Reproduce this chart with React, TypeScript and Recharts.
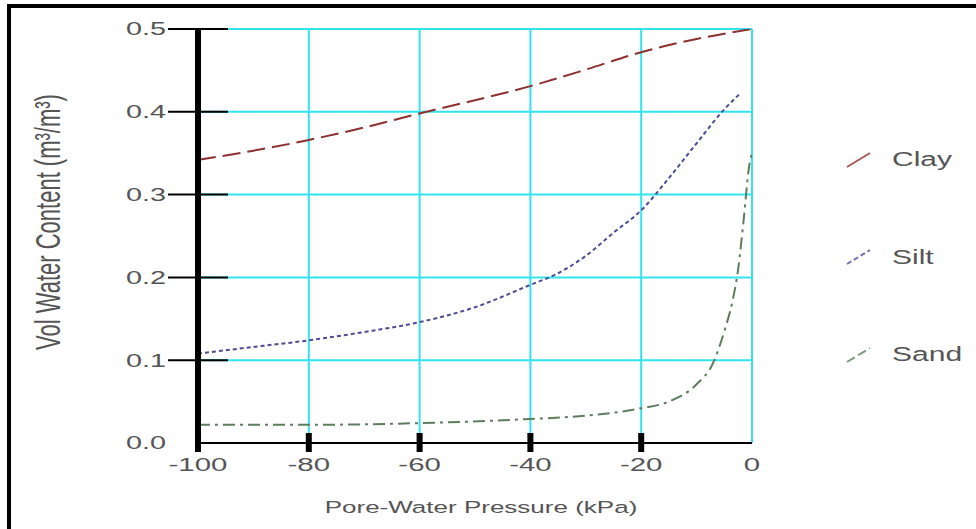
import { LineChart, Line, XAxis, YAxis, CartesianGrid, Legend } from "recharts";

// axis ticks
const xTicks = [-100, -80, -60, -40, -20, 0];
const yTicks = [0, 0.1, 0.2, 0.3, 0.4, 0.5];

// pore-water pressure (kPa) / vol water content
const clayPressure = [-100, -90, -80, -70, -60, -50, -40, -30, -20, -10, 0];
const clayContent = [0.342, 0.353, 0.366, 0.381, 0.398, 0.414, 0.431, 0.451, 0.472, 0.488, 0.5];

const siltPressure = [-100, -90, -80, -70, -60, -50, -40, -35, -30, -25, -20, -15, -10, -5, -2];
const siltContent = [0.108, 0.116, 0.124, 0.134, 0.146, 0.164, 0.191, 0.205, 0.226, 0.254, 0.281, 0.32, 0.362, 0.403, 0.423];

const sandPressure = [-100, -80, -60, -40, -30, -20, -15, -10, -7, -5, -3.5, -2.5, -1.5, -0.5, 0];
const sandContent = [0.022, 0.022, 0.024, 0.029, 0.033, 0.042, 0.05, 0.071, 0.097, 0.135, 0.172, 0.21, 0.27, 0.335, 0.35];

const seriesNames = ["Clay", "Silt", "Sand"];

const toPoints = (p: number[], v: number[]) => p.map((x, i) => ({ p: x, v: v[i] }));

const seriesData: Record<string, { p: number; v: number }[]> = {
  Clay: toPoints(clayPressure, clayContent),
  Silt: toPoints(siltPressure, siltContent),
  Sand: toPoints(sandPressure, sandContent),
};

const lineStyle: Record<string, { color: string; dash: string; legendDash: string }> = {
  Clay: { color: "#8c3030", dash: "18 7", legendDash: "0" },
  Silt: { color: "#4d4d95", dash: "4 3", legendDash: "5 3" },
  Sand: { color: "#5e7d5e", dash: "12 5 3 5", legendDash: "9 4" },
};

const FONT = '"Liberation Sans", Arial, sans-serif';
const TEXT = "#555";
const GRID = "#33e3ec";

const YTick = (props: any) => {
  const { x, y, payload } = props;
  const v = payload.value;
  return (
    <g>
      {v !== 0 && <line x1={x + 2} x2={x + 62} y1={y} y2={y} stroke="#000" strokeWidth={2} />}
      {v === 0 && <line x1={x + 32} x2={x + 32} y1={y} y2={y + 9} stroke="#000" strokeWidth={6} />}
      <text
        transform={`translate(${x},${y}) scale(1.6,1)`}
        textAnchor="end"
        dy="0.36em"
        fontSize={18}
        fill={TEXT}
        fontFamily={FONT}
      >
        {v.toFixed(1)}
      </text>
    </g>
  );
};

const XTick = (props: any) => {
  const { x, y, payload } = props;
  const v = payload.value;
  return (
    <g>
      {v !== -100 && v !== 0 && <rect x={x - 3} y={y - 19} width={6} height={19} fill="#000" />}
      <text
        transform={`translate(${x},${y + 19}) scale(1.55,1)`}
        textAnchor="middle"
        fontSize={19}
        fill={TEXT}
        fontFamily={FONT}
      >
        {v}
      </text>
    </g>
  );
};

const renderYTitle = (props: any) => {
  const vb = props.viewBox;
  const cx = vb.x - 91;
  const cy = vb.y + vb.height / 2 - 14;
  return (
    <text
      transform={`translate(${cx},${cy}) scale(1.6,1) rotate(-90)`}
      textAnchor="middle"
      dy="0.36em"
      fontSize={22}
      fill={TEXT}
      fontFamily={FONT}
    >
      Vol Water Content (m³/m³)
    </text>
  );
};

const renderXTitle = (props: any) => {
  const vb = props.viewBox;
  const cx = vb.x + vb.width / 2 + 6;
  return (
    <text
      transform={`translate(${cx},${vb.y + 70}) scale(1.53,1)`}
      textAnchor="middle"
      fontSize={17}
      fill={TEXT}
      fontFamily={FONT}
    >
      Pore-Water Pressure (kPa)
    </text>
  );
};

const LegendBox = () => (
  <div style={{ display: "flex", flexDirection: "column" }}>
    {seriesNames.map((name) => (
      <div key={name} style={{ height: 97.5, display: "flex", alignItems: "center" }}>
        <svg width={30} height={20}>
          <line
            x1={4}
            y1={17}
            x2={27}
            y2={3}
            stroke={lineStyle[name].color}
            strokeWidth={2}
            strokeDasharray={lineStyle[name].legendDash}
            opacity={0.8}
          />
        </svg>
        <span
          style={{
            marginLeft: 19,
            fontSize: 20,
            color: TEXT,
            fontFamily: FONT,
            display: "inline-block",
            transform: "scaleX(1.5)",
            transformOrigin: "left center",
          }}
        >
          {name}
        </span>
      </div>
    ))}
  </div>
);

export default function App() {
  return (
    <div style={{ position: "absolute", left: 0, top: 0, width: 976, height: 529, background: "#fff", overflow: "hidden" }}>
      <div
        style={{
          position: "absolute",
          left: 7,
          top: 4,
          width: 980,
          height: 540,
          borderTop: "4px solid #000",
          borderLeft: "4px solid #000",
        }}
      />
      <div style={{ position: "absolute", left: 0, top: 0 }}>
        <LineChart width={976} height={529} margin={{ top: 29, right: 224, bottom: 56, left: 138 }}>
          <CartesianGrid stroke={GRID} strokeWidth={2} verticalValues={xTicks} horizontalValues={yTicks} />
          <XAxis
            type="number"
            dataKey="p"
            domain={[-100, 0]}
            ticks={xTicks}
            height={30}
            tickSize={9}
            tickMargin={0}
            tickLine={false}
            axisLine={{ stroke: "#000", strokeWidth: 2 }}
            tick={XTick}
            label={renderXTitle}
            allowDataOverflow
          />
          <YAxis
            type="number"
            dataKey="v"
            domain={[0, 0.5]}
            ticks={yTicks}
            width={60}
            tickSize={30}
            tickMargin={2}
            tickLine={false}
            axisLine={{ stroke: "#000", strokeWidth: 6 }}
            tick={YTick}
            label={renderYTitle}
            allowDataOverflow
          />
          <Legend
            layout="vertical"
            align="center"
            verticalAlign="middle"
            wrapperStyle={{ left: 843, top: 111, width: 133 }}
            content={LegendBox}
          />
          {seriesNames.map((name) => (
            <Line
              key={name}
              name={name}
              data={seriesData[name]}
              dataKey="v"
              type="monotone"
              stroke={lineStyle[name].color}
              strokeWidth={2}
              strokeDasharray={lineStyle[name].dash}
              dot={false}
              activeDot={false}
              isAnimationActive={false}
            />
          ))}
        </LineChart>
      </div>
    </div>
  );
}
